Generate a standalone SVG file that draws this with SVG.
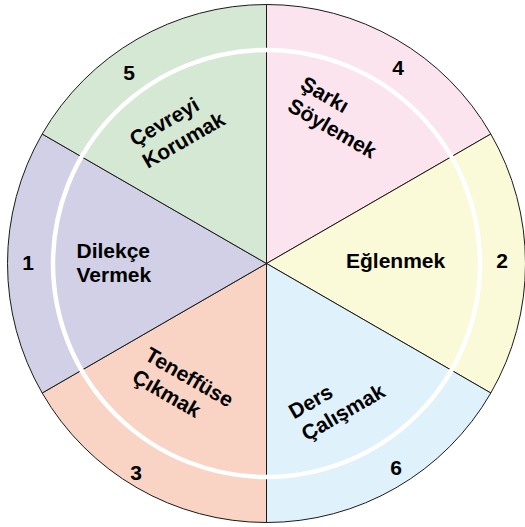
<svg xmlns="http://www.w3.org/2000/svg" width="525" height="527" viewBox="0 0 525 527">
<style>
.sec{stroke:#1a1a1a;stroke-width:1;stroke-linejoin:round}
.lbl{font-family:"Liberation Sans",Arial,sans-serif;font-weight:bold;font-size:21px;fill:#000}
.num{font-family:"Liberation Sans",Arial,sans-serif;font-weight:bold;font-size:21px;fill:#000;text-anchor:middle}
</style>
<rect width="525" height="527" fill="#ffffff"/>
<g id="sarki">
<path class="sec" fill="#fce4ee" d="M266.5,263.5 L266.5,4.5 A259,259 0 0 1 490.8,134 Z"/>
<text class="lbl" transform="translate(299,88) rotate(30)"><tspan x="0" y="0">Şarkı</tspan><tspan x="0" y="25.5">Söylemek</tspan></text>
<text class="num" x="398" y="74.5">4</text>
</g>
<g id="eglenmek">
<path class="sec" fill="#fafad8" d="M266.5,263.5 L490.8,134 A259,259 0 0 1 490.8,393 Z"/>
<text class="lbl" x="346" y="267.5">Eğlenmek</text>
<text class="num" x="502" y="267.5">2</text>
</g>
<g id="ders">
<path class="sec" fill="#dff1fb" d="M266.5,263.5 L490.8,393 A259,259 0 0 1 266.5,522.5 Z"/>
<text class="lbl" transform="translate(294,419.5) rotate(-30)"><tspan x="0" y="0">Ders</tspan><tspan x="0" y="25.5">Çalışmak</tspan></text>
<text class="num" x="396" y="475">6</text>
</g>
<g id="teneffuse">
<path class="sec" fill="#f9d3c3" d="M266.5,263.5 L266.5,522.5 A259,259 0 0 1 42.2,393 Z"/>
<text class="lbl" transform="translate(143.5,359) rotate(30)"><tspan x="0" y="0">Teneffüse</tspan><tspan x="0" y="25.5">Çıkmak</tspan></text>
<text class="num" x="136" y="480">3</text>
</g>
<g id="dilekce">
<path class="sec" fill="#d1d0e6" d="M266.5,263.5 L42.2,393 A259,259 0 0 1 42.2,134 Z"/>
<text class="lbl" x="76.5" y="257.5">Dilekçe<tspan x="76.5" y="282">Vermek</tspan></text>
<text class="num" x="28" y="270">1</text>
</g>
<g id="cevreyi">
<path class="sec" fill="#d5e8d4" d="M266.5,263.5 L42.2,134 A259,259 0 0 1 266.5,4.5 Z"/>
<text class="lbl" transform="translate(135,147) rotate(-30)"><tspan x="0" y="0">Çevreyi</tspan><tspan x="0" y="25.5">Korumak</tspan></text>
<text class="num" x="129" y="80">5</text>
</g>
<g id="connectors"></g>
<circle id="ring" cx="266.5" cy="263.5" r="213.5" fill="none" stroke="#ffffff" stroke-width="4.5"/>
</svg>
